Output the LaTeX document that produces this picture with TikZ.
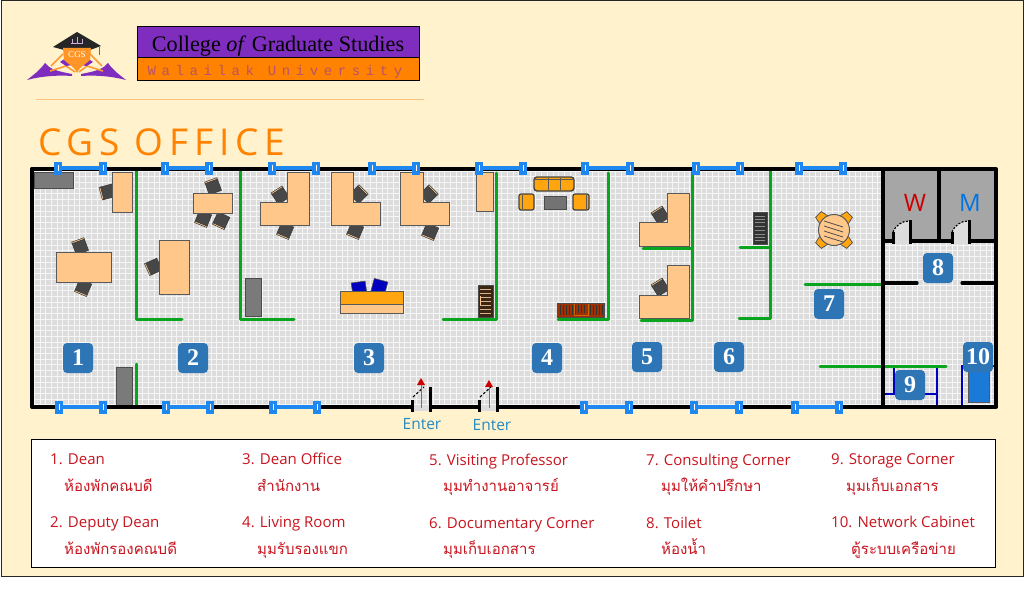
\documentclass[tikz,border=0pt]{standalone}
\usepackage{fontspec}
\setmainfont{Liberation Serif}
\setsansfont{Open Sans}
\newfontfamily\thaifont[Script=Thai]{Loma}
\newfontfamily\unifont[LetterSpace=40]{Liberation Mono}
\newfontfamily\titlefont[LetterSpace=15.5]{Open Sans}
\definecolor{cardcream}{HTML}{FFF2CC}
\definecolor{floorgray}{HTML}{DCDCDC}
\definecolor{deskpeach}{HTML}{FFC88A}
\definecolor{cgsorange}{HTML}{FF8200}
\definecolor{cgspurple}{HTML}{7F2DBE}
\definecolor{wallgreen}{HTML}{0AA51E}
\definecolor{winblue}{HTML}{1E88F0}
\definecolor{badgeblue}{HTML}{2E75B6}
\definecolor{legendred}{HTML}{C8141E}
\definecolor{sofaorange}{HTML}{FFA50F}
\tikzset{
  desk/.style={fill=deskpeach, draw=black!65, line width=1},
  cabinet/.style={fill=black!52, draw=black!70, line width=1},
  chairseat/.style={fill=black!72, draw=black!80, line width=0.5},
  chairback/.style={fill=deskpeach, draw=black!80, line width=0.5},
  wall/.style={draw=black, line width=4, line cap=round},
  thinwall/.style={draw=black, line width=3.2},
  greenwall/.style={draw=wallgreen, line width=3, line cap=round, line join=round},
  storeline/.style={draw=blue!75!black, line width=1.1},
  badge/.style={fill=badgeblue, rounded corners=4, minimum size=30, inner sep=0, text=white,
    font=\bfseries\fontsize{24}{24}\selectfont},
  legendtxt/.style={anchor=base west, inner sep=0, text=legendred, font=\sffamily\fontsize{15}{15}\selectfont},
  legendthai/.style={anchor=base west, inner sep=0, text=legendred, font=\thaifont\fontsize{15}{15}\selectfont},
  enterlabel/.style={text=badgeblue!85!cyan, font=\sffamily\fontsize{15.5}{15.5}\selectfont},
}
\newcommand{\officechair}[3]{
  \begin{scope}[shift={(#1,#2)},rotate=#3]
    \filldraw[chairseat] (-6.5,-5) rectangle (6.5,7);
    \filldraw[chairback] (-6.5,-6.5) rectangle (6.5,-5);
  \end{scope}
}
\newcommand{\windowbar}[3]{
  \draw[winblue, line width=3.2] (#1,#3) -- (#2,#3);
  \filldraw[fill=winblue, draw=winblue] (#1-3.5,#3-6) rectangle (#1+3.5,#3+6);
  \filldraw[fill=winblue, draw=winblue] (#2-3.5,#3-6) rectangle (#2+3.5,#3+6);
  \draw[white, line width=0.6] (#1,#3-3) -- (#1,#3+3);
  \draw[white, line width=0.6] (#2,#3-3) -- (#2,#3+3);
}
\newcommand{\armchair}[2]{
  \filldraw[fill=sofaorange, draw=black!75, line width=1.2, rounded corners=2] (#1,194) rectangle (#2,210);
}
\begin{document}
\begin{tikzpicture}[x=1pt,y=-1pt]
  \useasboundingbox (0,0) rectangle (1024,596);
  \filldraw[fill=cardcream, draw=black!85, line width=1] (1,1) rectangle (1023,576);

  % logo
  \fill[cgspurple] (27,80) .. controls (36,73) and (41,69) .. (45,63) .. controls (50,69) and (56,71) .. (72,74)
    -- (72,76) .. controls (58,75) and (42,76) .. (27,80);
  \fill[cgspurple] (126,80) .. controls (117,73) and (112,69) .. (108,63) .. controls (103,69) and (97,71) .. (81,74)
    -- (81,76) .. controls (95,75) and (111,76) .. (126,80);
  \draw[cgsorange!80, line width=1.6] (51,66) -- (63,54) (102,66) -- (90,54);
  \draw[cgsorange!80, line width=1.6] (50,71) -- (66,66) -- (75,72) (103,71) -- (87,66) -- (79,72);
  \fill[cgspurple] (60,62) -- (66,58) -- (73,65) -- (66,66) -- cycle (93,62) -- (87,58) -- (80,65) -- (87,66) -- cycle;
  \fill[black!85] (77,32) -- (101,46) -- (90,50) -- (64,50) -- (53,47) -- cycle;
  \fill[cgsorange!85] (63,48) -- (91,48) -- (90,60) .. controls (85,65) and (80,66) .. (77,73)
    .. controls (74,66) and (69,65) .. (64,60) -- cycle;
  \draw[cgsorange!70!black, line width=0.8] (99,47) -- (99,55);
  \draw[cgspurple!40, line width=0.9] (72,43) -- (72,39) (77,43) -- (77,37) (82,43) -- (82,39) (71,43) -- (83,43);
  \node (logotext) at (77,54.5) {\textcolor{white}{\fontsize{9}{9}\selectfont CGS}};

  % banner
  \filldraw[fill=cgspurple, draw=black, line width=1] (137,27) rectangle (419,58);
  \filldraw[fill=cgsorange, draw=black, line width=1] (137,58) rectangle (419,81);
  \node (college) at (278,46) {\fontsize{22.2}{23}\selectfont College \textit{of} Graduate Studies};
  \node[text=cgspurple!55!cgsorange] (walailak) at (275,71.5) {\unifont\fontsize{14}{14}\selectfont Walailak University};
  \draw[cgsorange!50, line width=0.9] (36,99) -- (424,99);
  \node[anchor=base west, inner sep=0, text=cgsorange] (officetitle) at (38,156) {\titlefont\fontsize{37}{37}\selectfont CGS OFFICE};

  % floor
  \fill[floorgray] (32,169) rectangle (883,407);
  \fill[floorgray] (883,241) rectangle (996,407);
  \begin{scope}
    \clip (32,169) rectangle (883,407) (883,241) rectangle (996,407);
    \draw[floorgray!30!white, line width=0.7, step=5.7pt] (32,169) grid (996,407);
  \end{scope}
  \fill[black!35] (883,169) rectangle (996,241);

  % room 1
  \filldraw[cabinet] (34,173) rectangle (73,188);
  \officechair{107}{192}{105}
  \filldraw[desk] (112,173) rectangle (132,212);
  \officechair{80}{246}{20}
  \officechair{83}{288}{157}
  \filldraw[desk] (56,252) rectangle (111,282);
  \filldraw[cabinet] (116,367) rectangle (132,405);

  % room 2
  \officechair{213}{186}{20}
  \officechair{203}{219}{158}
  \officechair{221}{221}{155}
  \filldraw[desk] (193,193) rectangle (232,213);
  \officechair{153}{267}{114}
  \filldraw[desk] (159,240) rectangle (189,294);
  \filldraw[cabinet] (245,278) rectangle (261,316);

  % room 3
  \officechair{280}{195}{33}
  \officechair{285}{231}{157}
  \filldraw[desk] (287,173) -- (309,173) -- (309,225) -- (260,225) -- (260,202) -- (287,202) -- cycle;
  \officechair{359}{194}{-45}
  \officechair{355}{231}{157}
  \filldraw[desk] (331,173) -- (353,173) -- (353,202) -- (380,202) -- (380,225) -- (331,225) -- cycle;
  \officechair{429}{194}{-45}
  \officechair{430}{232}{157}
  \filldraw[desk] (400,173) -- (423,173) -- (423,202) -- (449,202) -- (449,225) -- (400,225) -- cycle;
  \filldraw[desk] (476,173) rectangle (493,211);
  \filldraw[fill=blue!75!black, draw=black!70, line width=0.6, rotate around={8:(359,288)}] (352,282) rectangle (366,293);
  \filldraw[fill=blue!75!black, draw=black!70, line width=0.6, rotate around={-15:(379,288)}] (372,280) rectangle (386,293);
  \filldraw[desk] (340,304) rectangle (403,313);
  \filldraw[fill=sofaorange, draw=black!65, line width=1] (340,291) rectangle (403,304);
  \filldraw[fill=black!70!brown, draw=black!70, line width=1] (478,285) rectangle (493,317);
  \foreach \y in {289,293,297,301,305,309,313} {
    \draw[brown!60!white, line width=0.8] (480,\y) -- (491,\y);
  }
  \draw[deskpeach, line width=1] (480,296) -- (480,305);

  % room 4
  \filldraw[fill=sofaorange, draw=black!75, line width=1.4, rounded corners=3] (534,177) rectangle (574,191);
  \draw[black!65, line width=0.7] (534,179.5) -- (574,179.5) (548,178) -- (548,190) (560,178) -- (560,190);
  \armchair{519}{534}
  \armchair{573}{589}
  \draw[black!65, line width=0.7] (522,195) -- (522,209) (586,195) -- (586,209);
  \filldraw[fill=black!55, draw=black!70, line width=1] (544,196) rectangle (566,209);
  \filldraw[fill=orange!50!black!75!red, draw=black!70, line width=1] (557,303) rectangle (604,317);
  \foreach \x in {560,563,566,569,572,575,590,593,596,599,602} {
    \draw[black!80, line width=0.6] (\x,305) -- (\x,315);
  }
  \draw[orange!80!black, line width=0.8] (574,304) -- (574,315) -- (588,315) -- (588,304);
  \foreach \x in {578,581,584} {
    \draw[black!80, line width=0.6] (\x,305) -- (\x,313);
  }

  % room 5
  \officechair{660}{215}{32}
  \filldraw[desk] (667,193) -- (689,193) -- (689,246) -- (639,246) -- (639,222) -- (667,222) -- cycle;
  \officechair{660}{287}{32}
  \filldraw[desk] (667,265) -- (689,265) -- (689,318) -- (639,318) -- (639,295) -- (667,295) -- cycle;

  % room 6
  \filldraw[fill=black!80, draw=black!70, line width=1] (753,212) rectangle (767,244);
  \foreach \y in {216,219,222,226,230,234,237,240} {
    \draw[black!45, line width=0.7] (755,\y) -- (765,\y);
  }

  % room 7
  \foreach \a in {45,135,225,315} {
    \filldraw[fill=sofaorange, draw=black!70, line width=0.7, rotate around={\a:(834,230)}] (830,208) -- (838,208) -- (840,217) -- (828,217) -- cycle;
  }
  \filldraw[desk] (834,230) circle (15.5);
  \foreach \y in {221,226,231,236} {
    \draw[black!70, line width=0.8] (824,\y) -- (843,\y+6);
  }

  % storage and network corner
  \draw[storeline] (894,366) -- (894,394) (885,394) -- (937,394) (937,366) -- (937,407) (885,406.5) -- (937,406.5);
  \draw[storeline] (962,366) rectangle (997,407);
  \filldraw[fill=winblue!90!black, draw=black!65, line width=1] (968,370) rectangle (989,402);

  % green walls
  \draw[greenwall] (136,171) -- (136,319) -- (182,319);
  \draw[greenwall] (136,364) -- (136,405);
  \draw[greenwall] (240,171) -- (240,319) -- (294,319);
  \draw[greenwall] (496,173) -- (496,319) -- (443,319);
  \draw[greenwall] (608,173) -- (608,319) -- (558,319);
  \draw[greenwall] (692,172) -- (692,320) -- (641,320);
  \draw[greenwall] (643,248) -- (692,248);
  \draw[greenwall] (770,171) -- (770,318) -- (739,318);
  \draw[greenwall] (740,247) -- (770,247);
  \draw[greenwall] (805,284) -- (881,284);
  \draw[greenwall] (820,366) -- (881,366);
  \draw[greenwall] (885,366) -- (946,366);

  % outer and inner walls
  \draw[wall, line join=round] (32,169) -- (996,169) -- (996,407) -- (969,407);
  \draw[wall] (32,169) -- (32,407);
  \draw[thinwall] (32,407) -- (412,407) (430,407) -- (479,407) (497,407) -- (996,407);
  \draw[line width=4.2] (883,169) -- (883,407);
  \draw[thinwall] (939,169) -- (939,241);
  \draw[thinwall] (883,241) -- (893,241) (910,241) -- (952,241) (969,241) -- (996,241);
  \draw[line width=3.2, line cap=round] (884,283) -- (917,283) (962,283) -- (996,283);

  % toilet doors
  \foreach \dx in {0,59} {
    \fill[floorgray] (893+\dx,244) -- (893+\dx,232) .. controls (896+\dx,225) and (902+\dx,221) .. (909+\dx,221) -- (909+\dx,244) -- cycle;
    \draw[black, line width=1.1, dash pattern=on 2pt off 1.5pt] (893+\dx,232) .. controls (896+\dx,225) and (902+\dx,221) .. (909+\dx,221);
    \draw[line width=3] (893+\dx,232) -- (893+\dx,244) (910+\dx,220) -- (910+\dx,244);
  }

  % entrance doors
  \foreach \dx/\ax/\ay in {0/421/378,67/422/380} {
    \fill[floorgray] (412+\dx,405) rectangle (430+\dx,411);
    \draw[black, line width=1.1, dash pattern=on 2.5pt off 2pt] (413+\dx,397) -- (424+\dx,387);
    \draw[line width=3] (412+\dx,400) -- (412+\dx,412) (430+\dx,387) -- (430+\dx,412);
    \draw[red!75!black!70, line width=0.9] (\ax+\dx,408) -- (\ax+\dx,385);
    \fill[red!80!black] (\ax+\dx,\ay) -- (\ax+\dx+4,\ay+7) -- (\ax+\dx-4,\ay+7) -- cycle;
  }

  % windows
  \foreach \xa/\xb in {58/103,165/209,272/316,372/416,479/523,585/630,696/740,799/843} {
    \windowbar{\xa}{\xb}{168}
  }
  \foreach \xa/\xb in {59/103,166/210,273/317,584/629,694/739,795/839} {
    \windowbar{\xa}{\xb}{407}
  }

  % labels
  \node[enterlabel] (enter1) at (422,424) {Enter};
  \node[enterlabel] (enter2) at (492,425) {Enter};
  \node[text=red!80!black, font=\sffamily\fontsize{24}{24}\selectfont] (wsign) at (915,203) {W};
  \node[text=blue!50!cyan!90!black, font=\sffamily\fontsize{24}{24}\selectfont] (msign) at (970,203) {M};
  \foreach \i/\x/\y in {1/78/358,2/193/358,3/369/358,4/547/358,5/647/357,6/729/357,7/829/304,8/938/268,9/910/385,10/978/357} {
    \node[badge] (room\i) at (\x,\y) {\i};
  }

  % legend
  \filldraw[fill=white, draw=black, line width=1] (31,439) rectangle (995,567);
  \foreach \i/\x/\y/\txt in {1/50/464/1. Dean,2/50/527/2. Deputy Dean,3/242/464/3. Dean Office,4/242/527/4. Living Room,
    5/429/465/5. Visiting Professor,6/429/528/6. Documentary Corner,7/646/465/7. Consulting Corner,8/646/528/8. Toilet,
    9/831/464/9. Storage Corner,10/831/527/10. Network Cabinet} {
    \node[legendtxt] (legend\i) at (\x,\y) {\txt};
  }
  \foreach \i/\x/\y/\txt in {1/64/491/ห้องพักคณบดี,2/64/554/ห้องพักรองคณบดี,3/257/491/สำนักงาน,4/257/554/มุมรับรองแขก,
    5/443/491/มุมทำงานอาจารย์,6/443/554/มุมเก็บเอกสาร,7/661/491/มุมให้คำปรึกษา,8/661/554/ห้องน้ำ,
    9/846/491/มุมเก็บเอกสาร,10/851/554/ตู้ระบบเครือข่าย} {
    \node[legendthai] (thai\i) at (\x,\y) {\txt};
  }
\end{tikzpicture}
\end{document}
